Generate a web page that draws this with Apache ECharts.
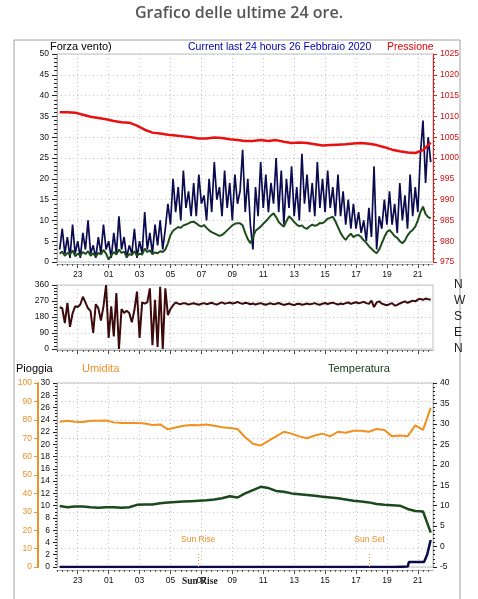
<!DOCTYPE html>
<html><head><meta charset="utf-8">
<script src="https://cdn.jsdelivr.net/npm/echarts@6/dist/echarts.min.js"></script>
<style>html,body{margin:0;padding:0;background:#fff}#c{width:478px;height:599px}</style>
</head><body><div id="c"></div>
<script>
// ---- data ----
const xTickHours = [23, 25, 27, 29, 31, 33, 35, 37, 39, 41, 43, 45];
const startHour = 21.8333;      // 21:50 of 25 Feb
const windGust = [3,8,2,6,1,9,2,5,1,7,3,10,2,4,1,6,2,9,3,5,1,7,2,11,3,6,1,4,2,8,1,5,2,12,3,7,2,9,4,10,3,8,
  14,9,20,12,18,10,22,13,17,11,19,11,21,14,16,10,20,12,24,15,18,11,22,13,19,10,21,14,17,
  27,12,20,9,3,18,11,24,13,21,12,19,14,25,12,22,9,20,13,23,11,18,10,26,14,21,12,19,11,24,13,20,12,22,13,18,11,21,11,17,9,15,8,14,8,
  12,7,10,5,13,6,23,3,11,
  8,15,9,17,9,14,7,19,10,16,8,21,11,18,12,
  26,34,19,30,24];
const windAvg = [2.0,2.5,1.5,2.2,1.8,2.8,1.4,2.0,1.6,2.4,1.9,2.6,1.5,2.1,1.3,2.2,1.8,2.9,2.0,0.6,1.6,2.4,1.8,3.0,2.2,2.5,1.2,1.9,1.7,2.6,1.5,2.0,1.8,3.2,2.4,2.8,1.9,2.3,2.1,2.6,2.4,3.0,
  4.5,6.5,7.5,8.0,8.4,8.2,8.8,9.0,9.3,9.6,9.7,9.3,8.8,8.5,8.9,8.2,7.6,7.2,6.9,6.6,6.3,6.5,7.0,7.6,8.2,8.8,9.2,9.3,9.3,
  8.8,7.0,5.5,4.5,6.0,7.5,8.0,8.5,9.2,9.8,10.5,11.2,11.7,10.8,9.6,9.0,8.5,9.8,11.0,10.4,9.6,9.0,8.6,8.8,8.2,8.0,8.6,9.0,8.7,8.9,9.4,9.3,9.8,10.4,10.6,10.9,9.8,8.4,7.0,6.0,5.3,6.2,6.8,6.0,6.4,
  6.5,6.0,5.2,4.6,3.8,3.2,2.6,2.1,3.0,
  4.5,6.0,7.2,7.7,7.0,6.2,5.8,5.0,4.5,5.2,6.4,7.2,7.7,8.5,10.0,
  12.0,13.3,11.5,10.8,10.5];
const windDir = [235,229,146,259,125,200,240,236,250,294,262,229,213,90,252,230,160,240,360,62,
  240,71,315,0,225,203,215,203,150,219,323,62,262,255,262,341,22,277,11,350,0,341,191,225,245,262,
  255,252,258,256,250,254,257,253,249,255,258,252,256,260,254,250,257,262,255,258,
  262,256,259,265,258,254,260,257,252,256,250,255,258,253,249,254,257,251,255,259,
  253,248,252,256,250,247,253,255,249,252,256,251,254,258,252,249,255,259,253,257,
  261,255,250,256,252,258,262,254,259,263,257,261,265,258,254,272,236,262,268,255,
  250,246,252,258,244,248,256,262,268,260,266,272,268,278,282,276,284,280,278];
const pressure = [1011.0,1011.0,1010.9,1010.4,1009.9,1009.6,1009.3,1008.9,1008.6,1008.5,1007.8,1006.8,1006.1,1005.9,1005.6,1005.4,1005.2,1005.0,1004.7,1004.7,1004.9,1004.8,1004.5,1004.3,1004.1,1004.1,1004.3,1004.1,1004.3,1003.9,1003.6,1003.7,1003.6,1003.3,1003.0,1003.1,1003.2,1003.3,1003.5,1003.6,1003.4,1003.1,1002.6,1002.0,1001.6,1001.3,1001.2,1001.9,1003.7];
const humidity = [79.0,79.5,79.0,78.8,79.5,79.5,79.6,78.6,78.2,78.2,78.2,78.0,77.2,77.5,74.8,75.8,76.8,77.2,77.0,77.4,76.8,76.0,75.6,75.0,70.5,67.0,66.0,68.5,71.0,73.5,72.5,71.0,70.0,71.5,72.5,71.0,73.5,73.0,74.0,74.0,73.5,75.0,74.5,71.0,71.5,71.0,77.0,74.5,86.5];
const temperature = [9.9,9.6,9.8,9.8,9.6,9.5,9.6,9.6,9.5,9.6,10.2,10.3,10.3,10.6,10.8,10.9,11.0,11.1,11.2,11.3,11.5,11.8,12.3,12.0,13.0,13.8,14.6,14.3,13.6,13.4,13.0,12.8,12.6,12.4,12.2,12.0,11.8,11.5,11.2,11.0,10.8,10.4,10.2,10.1,10.0,9.2,8.7,8.6,3.4];
const rainHours = [21.83, 43.55, 43.6, 44.35, 44.42, 45.4, 45.6, 45.83];
const rainMm = [0, 0, 0.1, 0.1, 0.8, 0.8, 2.0, 4.4];
const sunEvents = [{name: 'Sun Rise', hour: 30.8}, {name: 'Sun Set', hour: 41.87}];
const compassLabels = ['N', 'E', 'S', 'W', 'N'];

// ---- build ----
const t10 = windGust.map((_, i) => startHour + i / 6);
const t30 = pressure.map((_, i) => startHour + i * 0.5);
const pair = (ts, vs) => vs.map((v, i) => [ts[i], v]);
const xMin = 21.66, xMax = 45.98;
const minorHours = Array.from({length: 73}, (_, i) => 21.6667 + i / 3);
const hourLabel = v => { const h = Math.round(v) % 24; return (h < 10 ? '0' : '') + h; };
const plain = v => String(v);
const F = 'Liberation Sans';
const grid = '#c4c4c4';

function mainX(g, showLabels, offset) {
  return {type: 'value', gridIndex: g, min: xMin, max: xMax, position: 'bottom', offset: offset,
    axisLine: {show: true, onZero: false, lineStyle: {color: '#aaa'}},
    axisTick: {show: true, customValues: xTickHours, length: 4, lineStyle: {color: '#444'}},
    axisLabel: {show: showLabels, customValues: xTickHours, formatter: hourLabel, fontSize: 8.5, fontFamily: F, color: '#111', margin: 6},
    splitLine: {show: true, lineStyle: {color: grid, type: [1, 3]}}};
}
function minorX(g, offset) {
  return {type: 'value', gridIndex: g, min: xMin, max: xMax, position: 'bottom', offset: offset,
    axisLine: {show: false, onZero: false}, axisLabel: {show: false}, splitLine: {show: false},
    axisTick: {show: true, customValues: minorHours, length: 2, lineStyle: {color: '#555'}}};
}
const lineS = (xi, yi, data, color, width, z) => ({type: 'line', xAxisIndex: xi, yAxisIndex: yi, data: data,
  showSymbol: false, symbol: 'none', lineStyle: {color: color, width: width}, itemStyle: {color: color}, z: z, animation: false});

const chart = echarts.init(document.getElementById('c'), null, {renderer: 'canvas'});
chart.setOption({
  animation: false,
  backgroundColor: '#fff',
  grid: [
    {left: 57, top: 54, width: 376, height: 208, show: true, borderColor: '#c0c0c0', borderWidth: 1},
    {left: 57, top: 285, width: 376, height: 64, show: true, borderColor: '#c0c0c0', borderWidth: 1},
    {left: 57, top: 383, width: 376, height: 184, show: true, borderColor: '#c0c0c0', borderWidth: 1}
  ],
  xAxis: [mainX(0, true, 2), minorX(0, 2), mainX(1, false, 1), minorX(1, 1), mainX(2, true, 3), minorX(2, 3)],
  yAxis: [
    {gridIndex: 0, type: 'value', min: 0, max: 50, interval: 5, position: 'left',
      axisLine: {show: true, lineStyle: {color: '#aaa'}}, axisTick: {show: true, length: 5, lineStyle: {color: '#222'}},
      minorTick: {show: true, splitNumber: 5, length: 3, lineStyle: {color: '#222'}},
      axisLabel: {fontSize: 8.5, fontFamily: F, color: '#111', margin: 8},
      splitLine: {show: true, lineStyle: {color: grid, type: [1, 3]}}},
    {gridIndex: 0, type: 'value', min: 975, max: 1025, interval: 5, position: 'right',
      axisLine: {show: true, lineStyle: {color: '#e02020'}}, axisTick: {show: true, length: 4, lineStyle: {color: '#e02020'}},
      minorTick: {show: true, splitNumber: 5, length: 2, lineStyle: {color: '#e02020'}},
      axisLabel: {fontSize: 8.5, fontFamily: F, color: '#d01010', margin: 7, formatter: plain}, splitLine: {show: false}},
    {gridIndex: 1, type: 'value', min: 0, max: 360, interval: 90, position: 'left',
      axisLine: {show: true, lineStyle: {color: '#aaa'}}, axisTick: {show: true, length: 5, lineStyle: {color: '#222'}},
      minorTick: {show: true, splitNumber: 5, length: 3, lineStyle: {color: '#222'}},
      axisLabel: {fontSize: 8.5, fontFamily: F, color: '#111', margin: 8},
      splitLine: {show: true, lineStyle: {color: grid, type: [1, 3]}}},
    {gridIndex: 1, type: 'value', min: 0, max: 360, interval: 90, position: 'right',
      axisLine: {show: false}, axisTick: {show: false}, splitLine: {show: false},
      axisLabel: {fontSize: 12, fontFamily: F, color: '#222', margin: 21, formatter: v => compassLabels[Math.round(v / 90)]}},
    {gridIndex: 2, type: 'value', min: 0, max: 30, interval: 2, position: 'left',
      axisLine: {show: true, lineStyle: {color: '#aaa'}}, axisTick: {show: true, length: 4, lineStyle: {color: '#222'}},
      minorTick: {show: true, splitNumber: 4, length: 2, lineStyle: {color: '#222'}},
      axisLabel: {fontSize: 8.5, fontFamily: F, color: '#111', margin: 7}, splitLine: {show: false}},
    {gridIndex: 2, type: 'value', min: 0, max: 100, interval: 10, position: 'left', offset: 19,
      axisLine: {show: true, lineStyle: {color: '#f0902a', width: 2}}, axisTick: {show: true, length: 4, lineStyle: {color: '#f0902a'}},
      axisLabel: {fontSize: 8.5, fontFamily: F, color: '#e8902a', margin: 6},
      splitLine: {show: true, lineStyle: {color: grid, type: [1, 3]}}},
    {gridIndex: 2, type: 'value', min: -5, max: 40, interval: 5, position: 'right',
      axisLine: {show: true, lineStyle: {color: '#aaa'}}, axisTick: {show: true, length: 4, lineStyle: {color: '#222'}},
      minorTick: {show: true, splitNumber: 5, length: 2, lineStyle: {color: '#222'}},
      axisLabel: {fontSize: 8.5, fontFamily: F, color: '#111', margin: 7}, splitLine: {show: false}}
  ],
  series: [
    lineS(0, 0, pair(t10, windGust), '#0b0b50', 1.7, 2),
    lineS(0, 0, pair(t10, windAvg), '#1d4d1d', 2, 3),
    lineS(0, 1, pair(t30, pressure), '#e81010', 2.5, 4),
    lineS(2, 2, pair(t10, windDir), '#3c0a0a', 2, 2),
    lineS(4, 5, pair(t30, humidity), '#f0901e', 2, 2),
    lineS(4, 6, pair(t30, temperature), '#1a4a1a', 2.5, 3),
    Object.assign(lineS(4, 4, pair(rainHours, rainMm), '#0a0a4a', 2.5, 4), {
      markLine: {silent: true, symbol: ['none', 'none'], animation: false,
        lineStyle: {color: '#e8902a', type: [1, 2], width: 1},
        label: {show: true, position: 'end', formatter: '{b}', color: '#e8902a', fontSize: 8.5, fontFamily: F, distance: 8},
        data: sunEvents.map(e => [{name: e.name, coord: [e.hour, 0]}, {coord: [e.hour, 2.4]}])}
    })
  ],
  graphic: [
    {type: 'rect', shape: {x: 14, y: 40, width: 446, height: 575}, style: {fill: 'none', stroke: '#a0a0a0', lineWidth: 1}, silent: true},
    {type: 'text', x: 239, y: 13, style: {text: 'Grafico delle ultime 24 ore.', font: '600 16px "Open Sans"', fill: '#555', textAlign: 'center', textVerticalAlign: 'middle'}},
    {type: 'text', x: 50, y: 47, style: {text: 'Forza vento)', font: '11px "Liberation Sans"', fill: '#000', textVerticalAlign: 'middle'}},
    {type: 'text', x: 188, y: 47, style: {text: 'Current last 24 hours 26 Febbraio 2020', font: '10.5px "Liberation Sans"', fill: '#0000a8', textVerticalAlign: 'middle'}},
    {type: 'text', x: 387, y: 47, style: {text: 'Pressione', font: '10.5px "Liberation Sans"', fill: '#e00000', textVerticalAlign: 'middle'}},
    {type: 'text', x: 16, y: 369, style: {text: 'Pioggia', font: '11px "Liberation Sans"', fill: '#000', textVerticalAlign: 'middle'}},
    {type: 'text', x: 82, y: 369, style: {text: 'Umidita', font: '11px "Liberation Sans"', fill: '#f0902a', textVerticalAlign: 'middle'}},
    {type: 'text', x: 328, y: 369, style: {text: 'Temperatura', font: '11px "Liberation Sans"', fill: '#0f3a0f', textVerticalAlign: 'middle'}},
    {type: 'text', x: 182, y: 582, style: {text: 'Sun Rise', font: 'bold 9.5px "Liberation Serif"', fill: '#222', textVerticalAlign: 'middle'}}
  ]
});
</script></body></html>
